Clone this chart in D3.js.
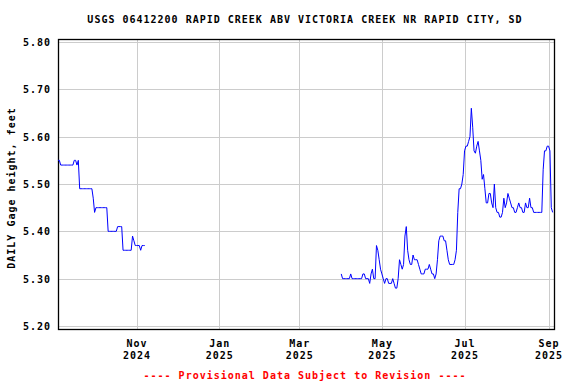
<!DOCTYPE html>
<meta charset="utf-8">
<head>
  <script src="https://cdn.jsdelivr.net/npm/d3@7"></script>
  <style>
    body { margin: 0; background: #fff; }
    text {
      font-family: "DejaVu Sans Mono", monospace;
      font-weight: bold;
      font-size: 10px;
      letter-spacing: 1px;
      fill: #000;
    }
    .grid line { stroke: #cccccc; shape-rendering: crispEdges; }
    .grid path { display: none; }
  </style>
</head>
<body>
<script>

// titulos
var titulo = "USGS 06412200 RAPID CREEK ABV VICTORIA CREEK NR RAPID CITY, SD";
var etiquetaY = "DAILY Gage height, feet";
var aviso = "---- Provisional Data Subject to Revision ----";

// eje x: ticks en el primer dia del mes
var ticksX = [new Date(2024,10,1), new Date(2025,0,1), new Date(2025,2,1),
              new Date(2025,4,1), new Date(2025,6,1), new Date(2025,8,1)];
var mesesX = ["Nov","Jan","Mar","May","Jul","Sep"];
var aniosX = ["2024","2025","2025","2025","2025","2025"];

var ticksY = [5.20, 5.30, 5.40, 5.50, 5.60, 5.70, 5.80];

// serie diaria 1: desde 2024-09-04
var inicio1 = new Date(2024,8,4);
var valores1 = [5.55,5.55,5.54,5.54,5.54,5.54,5.54,5.54,5.54,5.54,5.54,5.54,
  5.55,5.55,5.54,5.55,5.49,5.49,5.49,5.49,5.49,5.49,5.49,5.49,5.49,5.49,
  5.47,5.44,5.45,5.45,5.45,5.45,5.45,5.45,5.45,5.45,5.45,5.40,5.40,5.40,
  5.40,5.40,5.40,5.40,5.41,5.41,5.41,5.41,5.36,5.36,5.36,5.36,5.36,5.36,
  5.36,5.39,5.38,5.37,5.37,5.37,5.37,5.36,5.37,5.37,5.37];

// serie diaria 2: desde 2025-04-01
var inicio2 = new Date(2025,3,1);
var valores2 = [5.31,5.30,5.30,5.30,5.30,5.30,5.30,5.31,5.30,5.30,5.30,5.30,
  5.30,5.30,5.30,5.30,5.31,5.31,5.30,5.30,5.30,5.29,5.31,5.32,5.30,5.30,
  5.37,5.36,5.34,5.32,5.31,5.30,5.29,5.30,5.30,5.29,5.29,5.29,5.30,5.29,
  5.28,5.28,5.30,5.34,5.33,5.32,5.33,5.39,5.41,5.36,5.34,5.33,5.33,5.35,
  5.34,5.34,5.34,5.33,5.32,5.31,5.31,5.31,5.32,5.32,5.32,5.33,5.32,5.31,
  5.31,5.30,5.31,5.34,5.38,5.39,5.39,5.39,5.38,5.38,5.36,5.34,5.33,5.33,
  5.33,5.33,5.34,5.36,5.44,5.49,5.49,5.50,5.52,5.57,5.58,5.58,5.59,5.60,
  5.66,5.62,5.57,5.565,5.58,5.59,5.57,5.55,5.51,5.52,5.49,5.46,5.46,5.48,
  5.48,5.46,5.45,5.50,5.45,5.44,5.44,5.43,5.43,5.44,5.47,5.45,5.46,5.48,
  5.47,5.46,5.45,5.45,5.44,5.44,5.45,5.46,5.45,5.45,5.44,5.44,5.46,5.45,
  5.45,5.47,5.45,5.45,5.44,5.44,5.44,5.44,5.44,5.44,5.44,5.53,5.57,5.57,
  5.58,5.58,5.57,5.45,5.44];

// margenes del marco
var izq = 58, der = 554, arriba = 39, abajo = 329;

var svg = d3.select("body").append("svg")
  .attr("width", 576).attr("height", 384);

var xScale = d3.scaleTime()
  .domain([new Date(2024,8,4), new Date(2025,8,5)])
  .range([izq, der]);

var yScale = d3.scaleLinear()
  .domain([5.2, 5.8])
  .range([326, 42]);

// rejilla
svg.append("g").attr("class","grid")
  .attr("transform","translate(0," + arriba + ")")
  .call(d3.axisBottom(xScale).tickValues(ticksX).tickSize(abajo - arriba).tickFormat(""));

svg.append("g").attr("class","grid")
  .attr("transform","translate(" + der + ",0)")
  .call(d3.axisLeft(yScale).tickValues(ticksY).tickSize(der - izq).tickFormat(""));

// marco
svg.append("rect")
  .attr("x", izq + 0.5).attr("y", arriba + 0.5)
  .attr("width", der - izq).attr("height", abajo - arriba)
  .attr("fill","none").attr("stroke","#000").attr("stroke-width",1.3);

// etiquetas eje y
svg.selectAll(".ty").data(ticksY).enter().append("text")
  .attr("class","ty")
  .attr("x", 51)
  .attr("y", function(d){ return yScale(d) + 4; })
  .attr("text-anchor","end")
  .text(function(d){ return d3.format(".2f")(d); });

// etiquetas eje x
var tx = svg.selectAll(".tx").data(ticksX).enter().append("text")
  .attr("class","tx")
  .attr("text-anchor","middle");
tx.append("tspan")
  .attr("x", function(d){ return xScale(d) + 0.5; })
  .attr("y", 347)
  .text(function(d,i){ return mesesX[i]; });
tx.append("tspan")
  .attr("x", function(d){ return xScale(d) + 0.5; })
  .attr("y", 359)
  .text(function(d,i){ return aniosX[i]; });

// lineas de datos
var linea = d3.line()
  .x(function(d){ return xScale(d[0]); })
  .y(function(d){ return yScale(d[1]); });

function armar(inicio, vals) {
  return vals.map(function(v,i){ return [d3.timeDay.offset(inicio, i), v]; });
}

[armar(inicio1, valores1), armar(inicio2, valores2)].forEach(function(serie){
  svg.append("path")
    .datum(serie)
    .attr("d", linea)
    .attr("fill","none")
    .attr("stroke","#0000ff")
    .attr("stroke-width",1);
});

// titulo, eje y, aviso
svg.append("text")
  .attr("x", 305).attr("y", 23)
  .attr("text-anchor","middle")
  .text(titulo);

svg.append("text")
  .attr("transform","translate(15,188) rotate(-90)")
  .attr("text-anchor","middle")
  .text(etiquetaY);

svg.append("text")
  .attr("x", 305).attr("y", 379)
  .attr("text-anchor","middle")
  .style("fill","#ff0000")
  .text(aviso);

</script>
</body>
